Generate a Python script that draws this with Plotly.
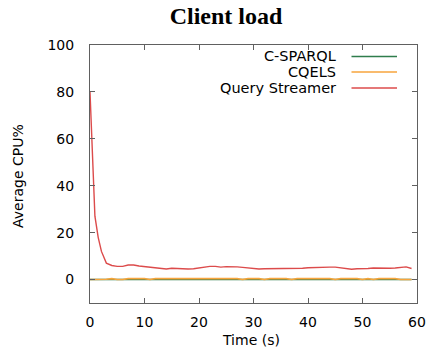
import plotly.graph_objects as go

# ---- data ----
qs_time = [0, 0.3, 0.6, 0.9, 1.5, 2.1, 3, 4, 5, 6, 7, 8, 9] + list(range(10, 60))
qs_cpu = [80, 60, 41, 27, 18, 12, 7, 6, 5.6, 5.6, 6.2, 6.2, 5.8,
          5.6, 5.4, 5.0, 4.8, 4.5, 4.8, 4.6, 4.5, 4.5, 4.6,
          5.0, 5.5, 5.6, 5.6, 5.3, 5.5, 5.6, 5.4, 5.2, 4.9,
          4.5, 4.5, 4.6, 4.6, 4.6, 4.6, 4.6, 4.6, 4.7, 4.8,
          5.0, 5.1, 5.4, 5.4, 5.3, 5.3, 5.0, 4.9, 4.4, 4.6,
          4.5, 4.7, 4.9, 4.8, 4.8, 4.8, 4.9, 5.0, 5.4, 4.7]

base_time = list(range(0, 60))
csparql_cpu = [0.0] * 60
cqels_cpu = [0, 0, 0, 0.1, 0.4, 0, 0, 0.4, 0.4, 0.4,
             0.4, 0, 0.4, 0.4, 0.4, 0.4, 0.4, 0.4, 0.4, 0.4,
             0.4, 0.4, 0.4, 0.4, 0.4, 0.4, 0.4, 0.4, 0, 0.4,
             0.4, 0.4, 0, 0.4, 0.4, 0.4, 0.4, 0, 0.4, 0.4,
             0.4, 0.4, 0.4, 0.4, 0.4, 0, 0.4, 0.4, 0.4, 0.4,
             0, 0.4, 0, 0.4, 0.4, 0.4, 0.4, 0, 0, 0]

series_names = ["C-SPARQL", "CQELS", "Query Streamer"]
colors = ["#2f7d4c", "#f7a53c", "#dc4b4b"]
x_ticks = [0, 10, 20, 30, 40, 50, 60]
y_ticks = [0, 20, 40, 60, 80, 100]

fig = go.Figure()
fig.add_trace(go.Scatter(x=base_time, y=csparql_cpu, mode="lines", name=series_names[0],
                         line=dict(color=colors[0], width=1.6)))
fig.add_trace(go.Scatter(x=base_time, y=cqels_cpu, mode="lines", name=series_names[1],
                         line=dict(color=colors[1], width=1.6)))
fig.add_trace(go.Scatter(x=qs_time, y=qs_cpu, mode="lines", name=series_names[2],
                         line=dict(color=colors[2], width=1.4)))

axis_font = dict(family="DejaVu Sans", size=14, color="black")
legend_font = dict(family="DejaVu Sans", size=14.5, color="black")
common = dict(showgrid=False, zeroline=False, showline=True, linecolor="#606060",
              linewidth=1, mirror="ticks", ticks="inside", ticklen=5,
              tickcolor="#606060", tickfont=axis_font, automargin=False)

L, T = 90, 45
PW, PH = 327, 258
W, H = 431, 355
R, B = W - L - PW, H - T - PH

fig.update_layout(
    width=W, height=H,
    margin=dict(l=L, r=R, t=T, b=B),
    paper_bgcolor="white", plot_bgcolor="white",
    showlegend=False,
    title=dict(text="<b>Client load</b>", font=dict(family="Liberation Serif", size=24, color="black"),
               x=226 / W, xref="container", xanchor="center",
               y=1 - 16 / H, yref="container", yanchor="middle", automargin=False),
    xaxis=dict(range=[0, 60], tickvals=x_ticks, ticklabelstandoff=6, **common),
    yaxis=dict(range=[-10, 100], tickvals=y_ticks, ticklabelstandoff=12, **common),
)

def px(x):
    return (x - L) / PW

def py(y):
    return 1 - (y - T) / PH

# axis titles
fig.add_annotation(text="Time (s)", xref="paper", yref="paper", x=px(251), y=py(340),
                   xanchor="center", yanchor="middle", showarrow=False, font=axis_font)
fig.add_annotation(text="Average CPU%", xref="paper", yref="paper", x=px(18), y=py(176),
                   xanchor="center", yanchor="middle", textangle=-90,
                   showarrow=False, font=axis_font)

# custom legend (text right-aligned, sample to the right, like gnuplot)
legend_y = [56.5, 72, 88]
for name, col, yp in zip(series_names, colors, legend_y):
    fig.add_annotation(text=name, xref="paper", yref="paper", x=px(338), y=py(yp),
                       xanchor="right", yanchor="middle", showarrow=False, font=legend_font)
    fig.add_shape(type="line", xref="paper", yref="paper",
                  x0=px(351.5), x1=px(397), y0=py(yp), y1=py(yp),
                  line=dict(color=col, width=1.6))

fig.write_html("out.html", config={"displayModeBar": False},
               post_script="document.body.style.margin='0';")
